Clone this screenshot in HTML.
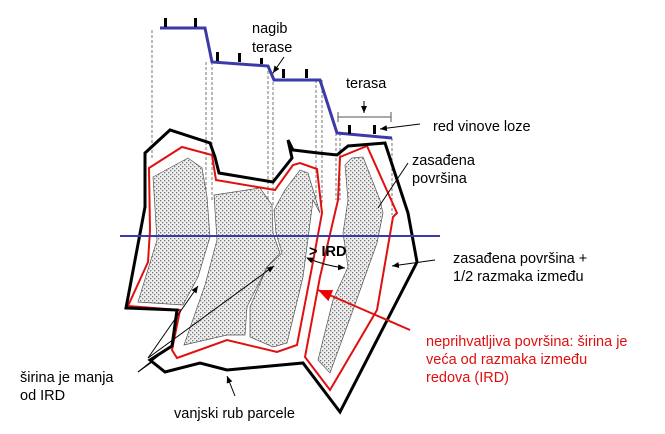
<!DOCTYPE html>
<html><head><meta charset="utf-8"><style>
html,body{margin:0;padding:0;background:#fff;width:665px;height:434px;overflow:hidden}
svg text{font-family:"Liberation Sans",sans-serif;font-size:14.5px}
</style></head><body>
<svg width="665" height="434" viewBox="0 0 665 434" xmlns="http://www.w3.org/2000/svg">
<defs>
<pattern id="dots" width="4" height="4" patternUnits="userSpaceOnUse">
<rect width="4" height="4" fill="#efefef"/>
<rect x="0" y="0" width="1.3" height="1.3" fill="#777"/>
<rect x="2" y="2" width="1.3" height="1.3" fill="#777"/>
</pattern>
<marker id="ah" markerWidth="8" markerHeight="8" refX="7" refY="4" orient="auto"><path d="M0,1 L7,4 L0,7 z" fill="#000"/></marker>
<marker id="ahs" markerWidth="8" markerHeight="8" refX="1" refY="4" orient="auto"><path d="M7,1 L0,4 L7,7 z" fill="#000"/></marker>
<marker id="ahr" markerWidth="8" markerHeight="8" refX="7" refY="4" orient="auto"><path d="M0,1 L7,4 L0,7 z" fill="#e00"/></marker>
</defs>
<g stroke="#555" stroke-width="0.8" stroke-dasharray="3,2">
<line x1="152" y1="30" x2="152" y2="160"/>
<line x1="206" y1="62" x2="206" y2="190"/>
<line x1="212" y1="62" x2="212" y2="200"/>
<line x1="268" y1="66" x2="268" y2="200"/>
<line x1="273" y1="72" x2="273" y2="205"/>
<line x1="316" y1="80" x2="316" y2="205"/>
<line x1="322" y1="80" x2="322" y2="205"/>
<line x1="336" y1="133" x2="336" y2="200"/>
<line x1="340" y1="133" x2="340" y2="200"/>
<line x1="392" y1="138" x2="392" y2="215"/>
</g>
<g fill="url(#dots)" stroke="#555" stroke-width="0.7">
<path d="M153,177 L188,158 L202,168 L207,197 L210,237 L198,277 L183,305 L138,302 L157,240 Z"/>
<path d="M214,195 L260,188 L272,205 L273,233 L280,253 L267,267 L247,307 L245,335 L227,335 L184,345 L205,285 L217,240 Z"/>
<path d="M285,190 L300,170 L308,173 L320,213 L313,200 L303,277 L287,343 L273,347 L250,337 L250,307 L267,267 L282,253 L276,233 L274,210 Z"/>
<path d="M345,165 L352,158 L363,157 L380,200 L383,213 L377,243 L353,310 L330,373 L318,360 L333,300 L348,267 L343,233 L348,200 Z"/>
</g>
<g fill="none" stroke="#e01010" stroke-width="2">
<path d="M149,168 L182,147 L212,155 L216,180 L275,190 L293,165 L300,163 L317,169 L322,213 L312,267 L297,345 L277,352 L227,340 L177,358 L172,350 L180,310 L128,306 L148,262 L150,230 Z"/>
<path d="M340,157 L367,146 L397,213 L393,217 L377,310 L330,390 L305,357 L320,277 L338,200 Z"/>
</g>
<path d="M145,153 L170,130 L210,143 L215,157 L219,173 L273,182 L292,158 L288,140 L293,150 L318,153 L337,155 L348,146 L385,143 L408,213 L417,262 L340,412 L303,363 L227,370 L200,363 L165,372 L150,360 L172,346 L177,310 L126,308 L145,207 Z" fill="none" stroke="#000" stroke-width="3" stroke-linejoin="miter"/>
<polyline points="160,28 205,28 212,62 268,66 274,80 320,80 337,133 392,138" fill="none" stroke="#3a3aa8" stroke-width="3"/>
<g fill="#000">
<rect x="164" y="18" width="3" height="9"/><rect x="194" y="18" width="3" height="9"/>
<rect x="216" y="52" width="3" height="9"/><rect x="238" y="53" width="3" height="9"/><rect x="260" y="58" width="3" height="6"/>
<rect x="282" y="69" width="3" height="9"/><rect x="305" y="69" width="3" height="9"/>
<rect x="348" y="125" width="3" height="9"/><rect x="373" y="125" width="3" height="9"/>
</g>
<line x1="120" y1="236" x2="440" y2="236" stroke="#3a3aa8" stroke-width="2"/>
<g stroke="#000" stroke-width="1" fill="none">
<line x1="284" y1="57" x2="273" y2="73" marker-end="url(#ah)"/>
<line x1="338" y1="117" x2="391" y2="117" stroke="#555"/>
<line x1="338" y1="112" x2="338" y2="122" stroke="#555"/>
<line x1="391" y1="112" x2="391" y2="122" stroke="#555"/>
<line x1="364" y1="101" x2="364" y2="113" marker-end="url(#ah)"/>
<line x1="420" y1="124" x2="380" y2="129" marker-end="url(#ah)"/>
<line x1="408" y1="163" x2="378" y2="208"/>
<line x1="435" y1="260" x2="392" y2="266" marker-end="url(#ah)"/>
<path d="M307,258 Q326,266 345,268" marker-start="url(#ahs)" marker-end="url(#ah)"/>
<line x1="148" y1="358" x2="198" y2="286" marker-end="url(#ah)"/>
<line x1="148" y1="358" x2="274" y2="266" marker-end="url(#ah)"/>
<line x1="138" y1="372" x2="172" y2="345"/>
<line x1="138" y1="372" x2="152" y2="362"/>
<line x1="235" y1="396" x2="227" y2="376" marker-end="url(#ah)"/>
</g>
<line x1="410" y1="330" x2="318" y2="290" stroke="#e01010" stroke-width="2" marker-end="url(#ahr)"/>
<g fill="#000">
<text x="252" y="33">nagib</text>
<text x="252" y="52">terase</text>
<text x="346" y="88">terasa</text>
<text x="433" y="131">red vinove loze</text>
<text x="412" y="165">zasađena</text>
<text x="412" y="183">površina</text>
<text x="453" y="263">zasađena površina +</text>
<text x="453" y="281">1/2 razmaka između</text>
<text x="309" y="256" font-weight="bold" font-size="12.5">&gt; IRD</text>
<text x="20" y="382">širina je manja</text>
<text x="20" y="400">od IRD</text>
<text x="174" y="418">vanjski rub parcele</text>
</g>
<g fill="#e01010">
<text x="426" y="346">neprihvatljiva površina: širina je</text>
<text x="426" y="364">veća od razmaka između</text>
<text x="426" y="382">redova (IRD)</text>
</g>
</svg>
</body></html>
